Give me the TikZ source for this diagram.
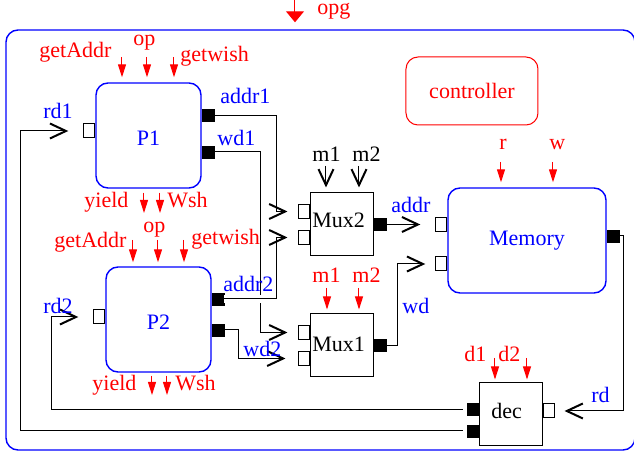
\documentclass[tikz,border=0pt]{standalone}
\usepackage{fontspec}
\setmainfont{Liberation Serif}
\usetikzlibrary{arrows.meta, positioning, calc}

\begin{document}
\begin{tikzpicture}[x=0.5pt, y=-0.5pt, font=\fontsize{11}{13}\selectfont,
	>={Straight Barb[length=8pt, width=7.5pt, line width=1pt]},
	proc/.style={draw=blue, line width=0.7pt, rounded corners=6pt, text=blue, inner sep=0pt},
	unit/.style={draw, line width=0.5pt, minimum width=31.5pt, minimum height=31.5pt, inner sep=0pt},
	inport/.style={draw, line width=0.5pt, fill=white, minimum width=5.5pt, minimum height=7pt, inner sep=0pt},
	outport/.style={draw, fill=black, minimum width=6pt, minimum height=6pt, inner sep=0pt},
	wire/.style={line width=0.5pt},
	sig/.style={red, line width=0.5pt, -{Triangle[length=6.5pt, width=4pt]}},
	lbl/.style={inner sep=0pt, anchor=base west},
]

\useasboundingbox (0,0) rectangle (634,454);

% frame and blocks
\node[proc, minimum width=314.5pt, minimum height=210pt] (opgbox) at (320.5,240) {};
\node[draw=red, line width=0.5pt, rounded corners=6pt, text=red, minimum width=66pt, minimum height=34pt] (ctrl) at (472,91) {controller};

\node[proc, minimum width=52.5pt, minimum height=52.5pt, text height=10.4pt] (p1) at (148.5,135.5) {P1};
\node[proc, minimum width=52.5pt, minimum height=52.5pt, text height=10.4pt] (p2) at (158.5,319.5) {P2};
\node[proc, minimum width=79pt, minimum height=52.5pt] (mem) at (527,240.5) {Memory};

\node[unit] (mux2) at (342.5,224.5) {};
\node[unit] (mux1) at (342.5,345.5) {};
\node[unit] (dec) at (511.5,414.5) {};

% ports
\node[inport, anchor=east] (p1i) at ([yshift=2.25pt]p1.west) {};
\node[outport, anchor=west] (p1a) at ([yshift=10pt]p1.east) {};
\node[outport, anchor=west] (p1w) at ([yshift=-8.25pt]p1.east) {};

\node[inport, anchor=east] (p2i) at ([yshift=1.25pt]p2.west) {};
\node[outport, anchor=west] (p2a) at ([yshift=10.25pt]p2.east) {};
\node[outport, anchor=west] (p2w) at ([yshift=-5.25pt]p2.east) {};

\node[inport, anchor=east] (mux2i1) at ([yshift=6.5pt]mux2.west) {};
\node[inport, anchor=east] (mux2i2) at ([yshift=-6.5pt]mux2.west) {};
\node[outport, anchor=west] (mux2o) at (mux2.east) {};

\node[inport, anchor=east] (mux1i1) at ([yshift=6.5pt]mux1.west) {};
\node[inport, anchor=east] (mux1i2) at ([yshift=-6.5pt]mux1.west) {};
\node[outport, anchor=west] (mux1o) at (mux1.east) {};

\node[inport, anchor=east] (memi1) at ([yshift=8pt]mem.west) {};
\node[inport, anchor=east] (memi2) at ([yshift=-11.75pt]mem.west) {};
\node[outport, anchor=west] (memo) at ([yshift=2.25pt]mem.east) {};

\node[inport, anchor=west] (deci) at ([yshift=1.75pt]dec.east) {};
\node[outport, anchor=east] (deco1) at ([yshift=2.5pt]dec.west) {};
\node[outport, anchor=east] (deco2) at ([yshift=-8.25pt]dec.west) {};

\node[lbl] (mux2txt) at (312,228) {Mux2};
\node[lbl] (mux1txt) at (312,352) {Mux1};
\node[lbl] (dectxt) at (491,419) {dec};

% data wires
\draw[wire, ->, shorten >=5.5pt] (p1a.east) -- ++(31pt,0) |- (mux2i1.west);
\draw[wire, ->, shorten >=5.5pt] (p1w.east) -- ++(23pt,0) |- (mux1i1.west);
\draw[white, line width=4pt] (p2a.east) -- ++(26pt,0);
\draw[wire, ->, shorten >=5.5pt] (p2a.east) -- ++(26pt,0) |- (mux2i2.west);
\draw[wire, ->, shorten >=6.5pt] (p2w.east) -- ++(7pt,0) |- (mux1i2.west);

\draw[wire, ->, shorten >=7.5pt] (mux2o.east) -- (memi1.west);
\draw[wire, ->, shorten >=5pt] (mux1o.east) -- ++(5pt,0) |- (memi2.west);
\draw[wire, ->, shorten >=4.5pt] (memo.east) -- ++(2pt,0) |- (deci.east);

\draw[wire, ->, shorten <=2pt, shorten >=7.5pt] (deco1.west) -| ([xshift=-21pt]p2i.west) -- (p2i.west);
\draw[wire, ->, shorten <=2pt, shorten >=7.5pt] (deco2.west) -| ([xshift=-31.5pt]p1i.west) -- (p1i.west);

% wire labels
\node[lbl, blue] (addr1lbl) at (220,104) {addr1};
\node[lbl, blue] (wd1lbl) at (217,146) {wd1};
\node[lbl, blue] (rd1lbl) at (43,119) {rd1};
\node[lbl, blue] (addr2lbl) at (223,292) {addr2};
\node[lbl, blue] (wd2lbl) at (243,357) {wd2};
\node[lbl, blue] (rd2lbl) at (43,314) {rd2};
\node[lbl, blue] (addrlbl) at (391,213) {addr};
\node[lbl, blue] (wdlbl) at (402,314) {wd};
\node[lbl, blue] (rdlbl) at (591,403) {rd};

% control inputs
\coordinate (opgin) at (295,0);
\draw[red, line width=0.5pt, -{Triangle[length=5.5pt, width=9pt]}, shorten >=3.5pt] (opgin) -- (opgin |- opgbox.north);
\node[lbl, red] (opglbl) at (317,15) {opg};

\coordinate (p1ga) at (122,57);
\coordinate (p1op) at (147,57);
\coordinate (p1gw) at (174,57);
\draw[sig, shorten >=2.5pt] (p1ga) -- (p1ga |- p1.north);
\draw[sig, shorten >=2.5pt] (p1op) -- (p1op |- p1.north);
\draw[sig, shorten >=2.5pt] (p1gw) -- (p1gw |- p1.north);
\node[lbl, red] at (39,58) {getAddr};
\node[lbl, red] at (133,46) {op};
\node[lbl, red] at (180,62) {getwish};

\coordinate (p1yd) at (144,213);
\coordinate (p1ws) at (160,213);
\draw[sig, shorten <=2pt] (p1yd |- p1.south) -- (p1yd);
\draw[sig, shorten <=2pt] (p1ws |- p1.south) -- (p1ws);
\node[lbl, red] at (84,208) {yield};
\node[lbl, red] at (167,208) {Wsh};

\coordinate (p2ga) at (133,240);
\coordinate (p2op) at (158,240);
\coordinate (p2gw) at (184,240);
\draw[sig, shorten >=2pt] (p2ga) -- (p2ga |- p2.north);
\draw[sig, shorten >=2pt] (p2op) -- (p2op |- p2.north);
\draw[sig, shorten >=2pt] (p2gw) -- (p2gw |- p2.north);
\node[lbl, red] at (54,248) {getAddr};
\node[lbl, red] at (143,233) {op};
\node[lbl, red] at (191,245) {getwish};

\coordinate (p2yd) at (152,395);
\coordinate (p2ws) at (167,395);
\draw[sig, shorten <=1.5pt] (p2yd |- p2.south) -- (p2yd);
\draw[sig, shorten <=1.5pt] (p2ws |- p2.south) -- (p2ws);
\node[lbl, red] at (92,391) {yield};
\node[lbl, red] at (175,391) {Wsh};

\coordinate (mux2m1) at (326,166);
\coordinate (mux2m2) at (359,166);
\draw[wire, ->, shorten >=2.5pt] (mux2m1) -- (mux2m1 |- mux2.north);
\draw[wire, ->, shorten >=2.5pt] (mux2m2) -- (mux2m2 |- mux2.north);
\node[lbl] at (312,162) {m1};
\node[lbl] at (352,162) {m2};

\coordinate (mux1m1) at (327,288);
\coordinate (mux1m2) at (359,288);
\draw[sig, shorten >=2pt] (mux1m1) -- (mux1m1 |- mux1.north);
\draw[sig, shorten >=2pt] (mux1m2) -- (mux1m2 |- mux1.north);
\node[lbl, red] at (312,283) {m1};
\node[lbl, red] at (352,283) {m2};

\coordinate (memr) at (501,162);
\coordinate (memw) at (553,162);
\draw[sig, shorten >=2.5pt] (memr) -- (memr |- mem.north);
\draw[sig, shorten >=2.5pt] (memw) -- (memw |- mem.north);
\node[lbl, red] at (499,150) {r};
\node[lbl, red] at (549,150) {w};

\coordinate (decd1) at (495,358);
\coordinate (decd2) at (527,358);
\draw[sig, shorten >=1.5pt] (decd1) -- (decd1 |- dec.north);
\draw[sig, shorten >=1.5pt] (decd2) -- (decd2 |- dec.north);
\node[lbl, red] at (464,362) {d1};
\node[lbl, red] at (498,362) {d2};

\end{tikzpicture}
\end{document}
